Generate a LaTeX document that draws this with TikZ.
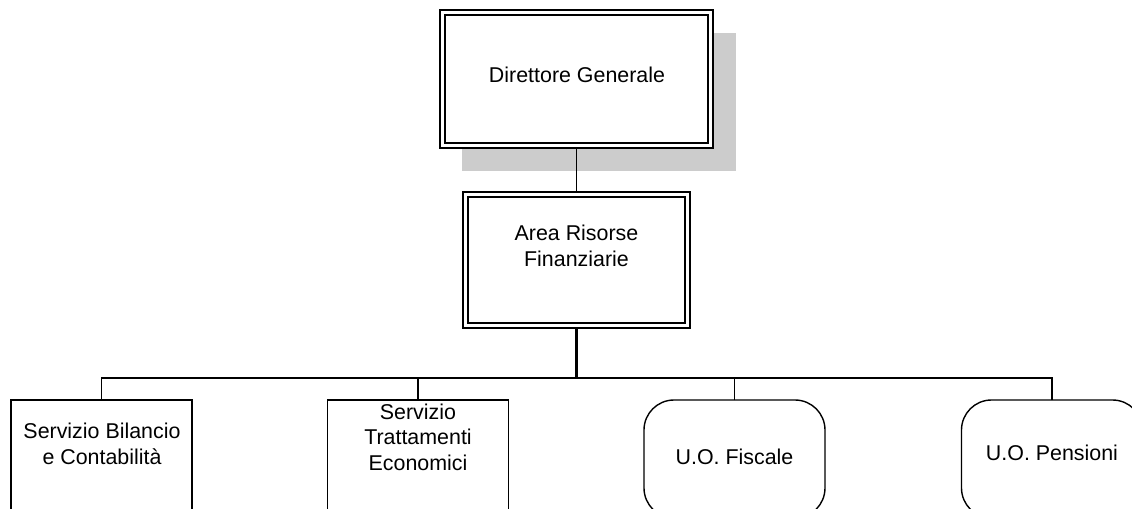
\documentclass[tikz,border=0pt]{standalone}
\usepackage{fontspec}
\setmainfont{Liberation Sans}
\begin{document}
\begin{tikzpicture}[x=0.5pt,y=-0.5pt,
  every node/.style={inner sep=0pt, outer sep=0pt},
  label/.style={align=center, font=\fontsize{10.7pt}{12.7pt}\selectfont},
  frame/.style={draw=black, rectangle, fill=white},
  unitbox/.style={draw=black, line width=0.7pt, fill=white, minimum width=90.5pt, minimum height=59pt},
  roundbox/.style={unitbox, rounded corners=15pt},
  shadowbox/.style={fill=black!20, draw=none, rectangle},
  conn/.style={draw=black, line width=0.7pt},
  mainconn/.style={draw=black, line width=1.1pt}
]
\clip (0,0) rectangle (1132,509);

% Director: drop shadow, thick outer frame, thin inner frame
\node[shadowbox, minimum width=137pt, minimum height=69pt] (dirshadow) at (599,102) {};
\node[frame, line width=1.1pt, minimum width=136.5pt, minimum height=69pt] (dir) at (576.5,79) {};
\node[draw=black, rectangle, line width=0.6pt, minimum width=131.5pt, minimum height=64pt] (dirin) at (576.5,79) {};
\node[label] (dirtext) at (577,75) {Direttore Generale};

% Finance area: thin outer frame, thick inner frame
\node[frame, line width=0.6pt, minimum width=113.5pt, minimum height=68pt] (area) at (576.5,260) {};
\node[draw=black, rectangle, line width=1.1pt, minimum width=108.5pt, minimum height=63pt] (areain) at (576.5,260) {};
\node[label] (areatext) at (576.5,246) {Area Risorse\\Finanziarie};

% Units
\node[unitbox] (c1) at (101.5,459) {};
\node[unitbox] (c2) at (418,459) {};
\node[roundbox] (c3) at (734.5,459) {};
\node[roundbox] (c4) at (1052,459) {};

\node[label] (c1text) at (102,444) {Servizio Bilancio\\e Contabilità};
\node[label] (c2text) at (418,437) {Servizio\\Trattamenti\\Economici};
\node[label] (c3text) at (734.5,457) {U.O. Fiscale};
\node[label] (c4text) at (1052,453) {U.O. Pensioni};

% Connectors
\coordinate (bus) at (576.5,378);
\draw[conn] (dir.south) -- (area.north);
\draw[mainconn] (area.south) -- (bus);
\draw[conn] (c1.north) -- (c1.north |- bus) -- (c4.north |- bus) -- (c4.north);
\draw[conn] (c2.north) -- (c2.north |- bus);
\draw[conn] (c3.north) -- (c3.north |- bus);
\end{tikzpicture}
\end{document}
